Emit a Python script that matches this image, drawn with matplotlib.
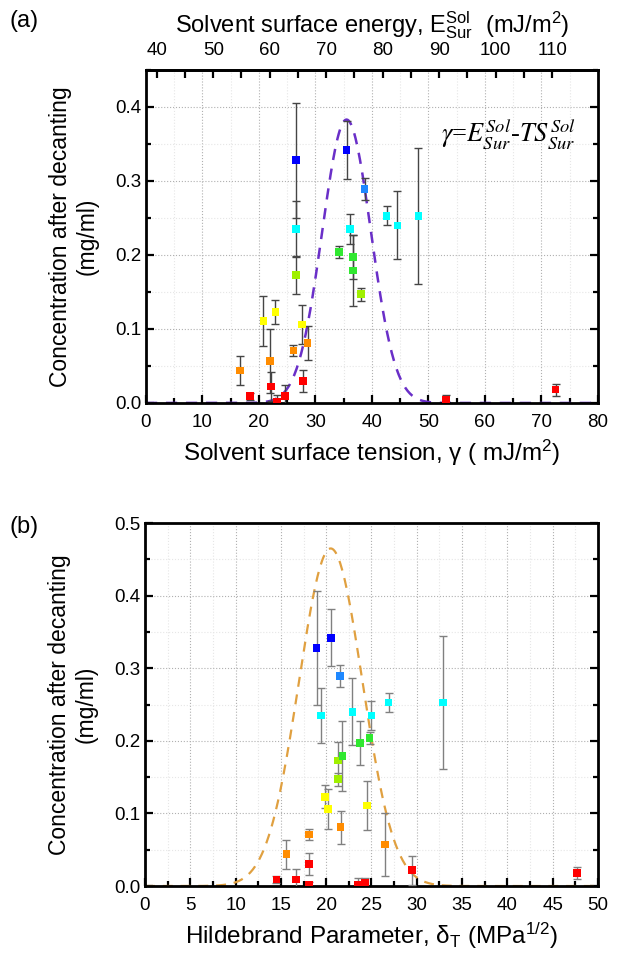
import numpy as np
import matplotlib
matplotlib.use("Agg")
import matplotlib.pyplot as plt
from matplotlib.ticker import MultipleLocator, FixedLocator

plt.rcParams['font.family'] = ['Liberation Sans', 'DejaVu Sans']
plt.rcParams['mathtext.fontset'] = 'custom'
plt.rcParams['mathtext.rm'] = 'Liberation Sans'
plt.rcParams['mathtext.it'] = 'Liberation Sans:italic'

# panel (a): surface tension vs concentration
gamma = [16.6, 18.4, 20.8, 21.9, 22.1, 22.9, 23.2, 24.6, 26.1, 26.6, 26.6, 26.6, 27.6, 27.8,
         28.6, 34.2, 35.5, 36.1, 36.6, 36.6, 38.1, 38.7, 42.6, 44.5, 48.2, 53.1, 72.5]
conc_a = [0.044, 0.009, 0.111, 0.057, 0.022, 0.123, 0.002, 0.009, 0.071, 0.328, 0.235, 0.173, 0.106, 0.030,
          0.081, 0.204, 0.342, 0.235, 0.197, 0.179, 0.147, 0.289, 0.253, 0.240, 0.253, 0.004, 0.018]
err_a = [0.020, 0.005, 0.034, 0.043, 0.020, 0.016, 0.009, 0.015, 0.007, 0.078, 0.038, 0.026, 0.027, 0.015,
         0.023, 0.008, 0.039, 0.020, 0.030, 0.048, 0.009, 0.015, 0.013, 0.046, 0.092, 0.007, 0.008]
colors_a = ['#ff8c00', '#ff0000', '#ffff00', '#ff8c00', '#ff0000', '#ffff00', '#ff0000', '#ff0000', '#ff8c00',
            '#0000ff', '#00ffff', '#a0f000', '#ffff00', '#ff0000', '#ff8c00', '#30e830', '#0000ff', '#00ffff',
            '#30e830', '#30e830', '#a0f000', '#1e88ff', '#00ffff', '#00ffff', '#00ffff', '#ff0000', '#ff0000']

# panel (b): Hildebrand parameter vs concentration
delta = [15.6, 14.5, 24.5, 26.5, 29.5, 19.9, 23.5, 16.7, 18.1, 18.95, 19.4, 21.3, 20.2, 18.1,
         21.6, 24.8, 20.5, 25.0, 23.7, 21.8, 21.3, 21.5, 26.9, 22.9, 32.9, 24.3, 47.7, 18.1]
conc_b = conc_a + [0.001]
err_b = err_a + [0.004]
colors_b = colors_a + ['#ff0000']

top_ticks = [40, 50, 60, 70, 80, 90, 100, 110]

# gaussian guides (centre, width, height)
fit_a = (35.5, 4.3, 0.383)
fit_b = (20.5, 3.5, 0.465)
offset_E = 38.1  # E_sur = gamma + TS


def style_axes(ax, xmaj, xmin):
    ax.xaxis.set_major_locator(MultipleLocator(xmaj))
    ax.xaxis.set_minor_locator(MultipleLocator(xmin))
    ax.yaxis.set_major_locator(MultipleLocator(0.1))
    ax.yaxis.set_minor_locator(MultipleLocator(0.05))
    ax.yaxis.set_major_formatter(plt.FormatStrFormatter('%.1f'))
    ax.tick_params(which='both', direction='in', labelsize=13.5, width=1.6)
    ax.tick_params(which='major', length=6)
    ax.tick_params(which='minor', length=3.5)
    ax.tick_params(axis='y', which='both', right=True)
    ax.tick_params(axis='x', which='major', pad=8)
    ax.grid(which='major', linestyle=':', color='#b0b0b0', linewidth=0.8)
    ax.grid(which='minor', linestyle=':', color='#e6e6e6', linewidth=0.8)
    ax.set_axisbelow(True)
    for s in ax.spines.values():
        s.set_linewidth(2.0)


fig = plt.figure(figsize=(6.18, 9.56), dpi=100)

# ---- (a)
ax1 = fig.add_axes([0.2362, 0.5785, 0.7314, 0.3483])
x = np.linspace(0, 80, 400)
ax1.plot(x, fit_a[2] * np.exp(-(x - fit_a[0]) ** 2 / (2 * fit_a[1] ** 2)),
         '--', color='#6a2fc8', lw=1.8, dashes=(4.5, 3.5), zorder=2)
ax1.errorbar(gamma, conc_a, yerr=err_a, fmt='none', ecolor='#454545', elinewidth=1.0, capsize=3, capthick=1.0, zorder=3)
ax1.scatter(gamma, conc_a, marker='s', s=30, c=colors_a, edgecolors='none', zorder=4)
ax1.set_xlim(0, 80)
ax1.set_ylim(0, 0.45)
style_axes(ax1, 10, 5)
ax1.set_xlabel('Solvent surface tension, γ ( mJ/m$^2$)', fontsize=17.5, labelpad=5)
ax1.set_ylabel('Concentration after decanting\n(mg/ml)', fontsize=16.5, labelpad=12)
ax1.text(52.3, 0.352, r'$\gamma$=$E^{Sol}_{Sur}$-$TS^{Sol}_{Sur}$', fontsize=19,
         math_fontfamily='stix', family='Liberation Serif')

top = ax1.secondary_xaxis('top', functions=(lambda v: v + offset_E, lambda v: v - offset_E))
top.xaxis.set_major_locator(FixedLocator(top_ticks))
top.xaxis.set_minor_locator(FixedLocator([t + 5 for t in top_ticks[:-1]]))
top.tick_params(which='both', direction='in', labelsize=13.5, width=1.6, length=6)
top.tick_params(which='major', pad=8)
top.set_xlabel(r'Solvent surface energy, $\mathrm{E}^{\mathrm{Sol}}_{\mathrm{Sur}}$  (mJ/m$^2$)', fontsize=17, labelpad=7)
top.spines['top'].set_linewidth(2.0)
fig.text(0.016, 0.972, '(a)', fontsize=17)

# ---- (b)
ax2 = fig.add_axes([0.2346, 0.0732, 0.7330, 0.3797])
x = np.linspace(0, 50, 400)
ax2.plot(x, fit_b[2] * np.exp(-(x - fit_b[0]) ** 2 / (2 * fit_b[1] ** 2)),
         '--', color='#e0a040', lw=1.6, dashes=(4.5, 3.5), zorder=2)
ax2.errorbar(delta, conc_b, yerr=err_b, fmt='none', ecolor='#808080', elinewidth=1.0, capsize=3, capthick=1.0, zorder=3)
ax2.scatter(delta, conc_b, marker='s', s=30, c=colors_b, edgecolors='none', zorder=4)
ax2.set_xlim(0, 50)
ax2.set_ylim(0, 0.5)
style_axes(ax2, 5, 2.5)
ax2.set_xlabel(r'Hildebrand Parameter, δ$_\mathrm{T}$ (MPa$^{1/2}$)', fontsize=17.5, labelpad=5)
ax2.set_ylabel('Concentration after decanting\n(mg/ml)', fontsize=16.5, labelpad=12)
fig.text(0.016, 0.442, '(b)', fontsize=17)

fig.savefig('out.png', dpi=100)
